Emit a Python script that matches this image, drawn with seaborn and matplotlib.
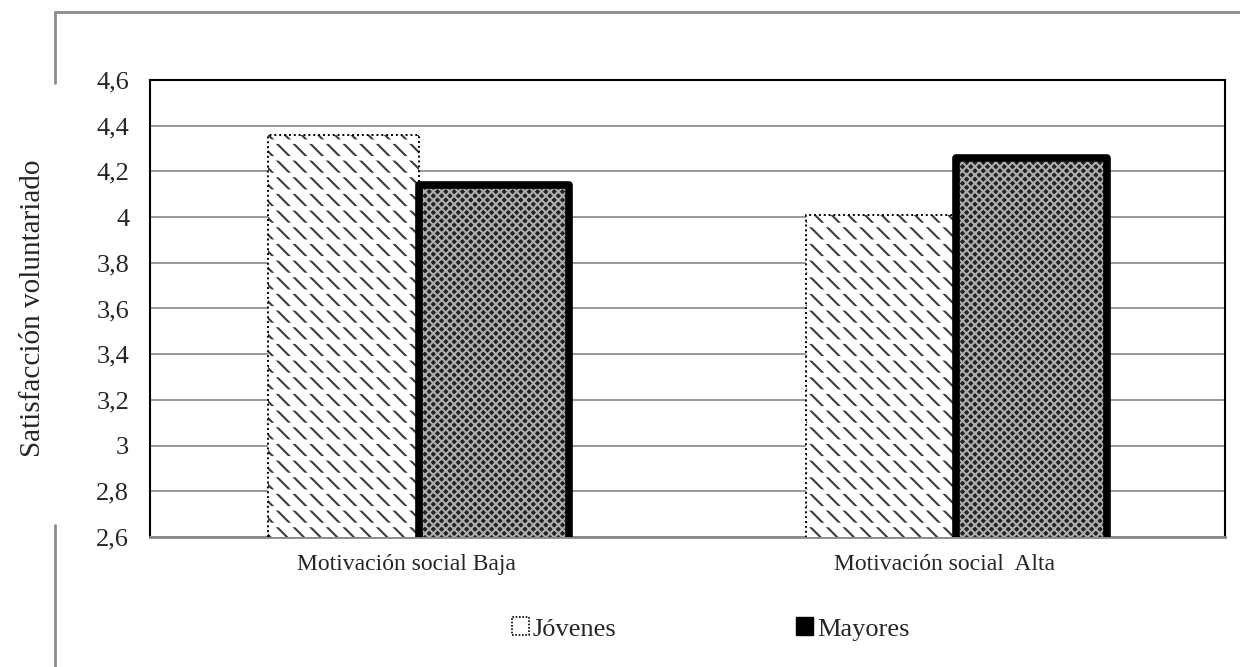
import matplotlib
matplotlib.use("Agg")
import matplotlib.pyplot as plt
from matplotlib.lines import Line2D
from matplotlib.patches import Rectangle, Patch
from matplotlib.transforms import ScaledTranslation
import seaborn as sns
import pandas as pd

categories = ["Motivación social Baja", "Motivación social  Alta"]
groups = ["Jóvenes", "Mayores"]
jovenes = [4.36, 4.01]
mayores = [4.14, 4.26]
yticks = [2.6, 2.8, 3.0, 3.2, 3.4, 3.6, 3.8, 4.0, 4.2, 4.4, 4.6]
ytick_labels = ["2,6", "2,8", "3", "3,2", "3,4", "3,6", "3,8", "4", "4,2", "4,4", "4,6"]

df = pd.DataFrame({
    "categoria": categories * 2,
    "grupo": [groups[0]] * 2 + [groups[1]] * 2,
    "valor": jovenes + mayores,
})

sns.set_style("white")
plt.rcParams["font.family"] = ["Liberation Serif", "DejaVu Serif"]
plt.rcParams["hatch.linewidth"] = 1.5

fig = plt.figure(figsize=(12.4, 6.67), dpi=100)
ax = fig.add_axes([0.121, 0.195, 0.867, 0.685])

sns.barplot(data=df, x="categoria", y="valor", hue="grupo", order=categories,
            hue_order=groups, width=0.56, gap=0, ax=ax, legend=False,
            errorbar=None, zorder=3)

ax.set_ylim(2.6, 4.6)
ax.set_xlim(-0.5, 1.5)
ax.set_yticks(yticks)
ax.set_yticklabels(ytick_labels, fontsize=19)
ax.tick_params(axis="x", labelsize=17, length=0, pad=12)
ax.tick_params(axis="y", length=0, pad=15)
# category labels sit slightly left of the group centre
shift = ScaledTranslation(-12 / 100, 0, fig.dpi_scale_trans)
for lbl in ax.get_xticklabels():
    lbl.set_transform(lbl.get_transform() + shift)
ax.set_xlabel("")
ax.set_ylabel("Satisfacción voluntariado", fontsize=21, labelpad=36)
ax.yaxis.grid(True, color="#999999", linewidth=1.4, zorder=0)
ax.set_axisbelow(True)
for side in ["left", "top", "right"]:
    ax.spines[side].set_color("black")
    ax.spines[side].set_linewidth(1.5)
ax.spines["bottom"].set_color("#888888")
ax.spines["bottom"].set_linewidth(2)

bars = list(ax.patches)
n = len(categories)
for p in bars[:n]:
    # light bars: rows of short diagonal strokes, dotted outline
    p.set_facecolor("white")
    p.set_hatch("\\\\")
    p.set_edgecolor("#3c3c3c")
    p.set_linewidth(0)
    with plt.rc_context({"hatch.linewidth": 3.2}):
        stripes = Rectangle(p.get_xy(), p.get_width(), p.get_height(), fill=False,
                            hatch="-", edgecolor="white", linewidth=0, zorder=3.5)
    ax.add_patch(stripes)
    ax.add_patch(Rectangle(p.get_xy(), p.get_width(), p.get_height(), fill=False,
                           edgecolor="black", linewidth=1.4, linestyle=(0, (1, 1.5)),
                           zorder=4))
for p in bars[n:]:
    # dark patterned bars with heavy outline
    p.set_facecolor("#222222")
    p.set_hatch("xxxx")
    p.set_edgecolor("#adadad")
    p.set_linewidth(0)
    ax.add_patch(Rectangle(p.get_xy(), p.get_width(), p.get_height(), fill=False,
                           edgecolor="black", linewidth=5.5, joinstyle="round",
                           zorder=5))

handles = [
    Patch(facecolor="white", edgecolor="black", linestyle=(0, (1, 1)), linewidth=1.2,
          label=groups[0]),
    Patch(facecolor="black", edgecolor="black", label=groups[1]),
]
fig.legend(handles=handles, loc="center", bbox_to_anchor=(0.573, 0.057), ncol=2,
           frameon=False, fontsize=19, handlelength=0.65, handleheight=0.65,
           handletextpad=0.15, columnspacing=6.8)

# outer chart frame
frame_kw = dict(color="#8c8c8c", linewidth=2, transform=fig.transFigure)
fig.add_artist(Line2D([0.0445, 0.0445], [1 - 12 / 667, 1 - 83 / 667], **frame_kw))
fig.add_artist(Line2D([0.0445, 1.0], [1 - 12 / 667, 1 - 12 / 667], **frame_kw))
fig.add_artist(Line2D([0.0445, 0.0445], [1 - 525 / 667, 0.0], **frame_kw))

fig.savefig("out.png", dpi=100)
